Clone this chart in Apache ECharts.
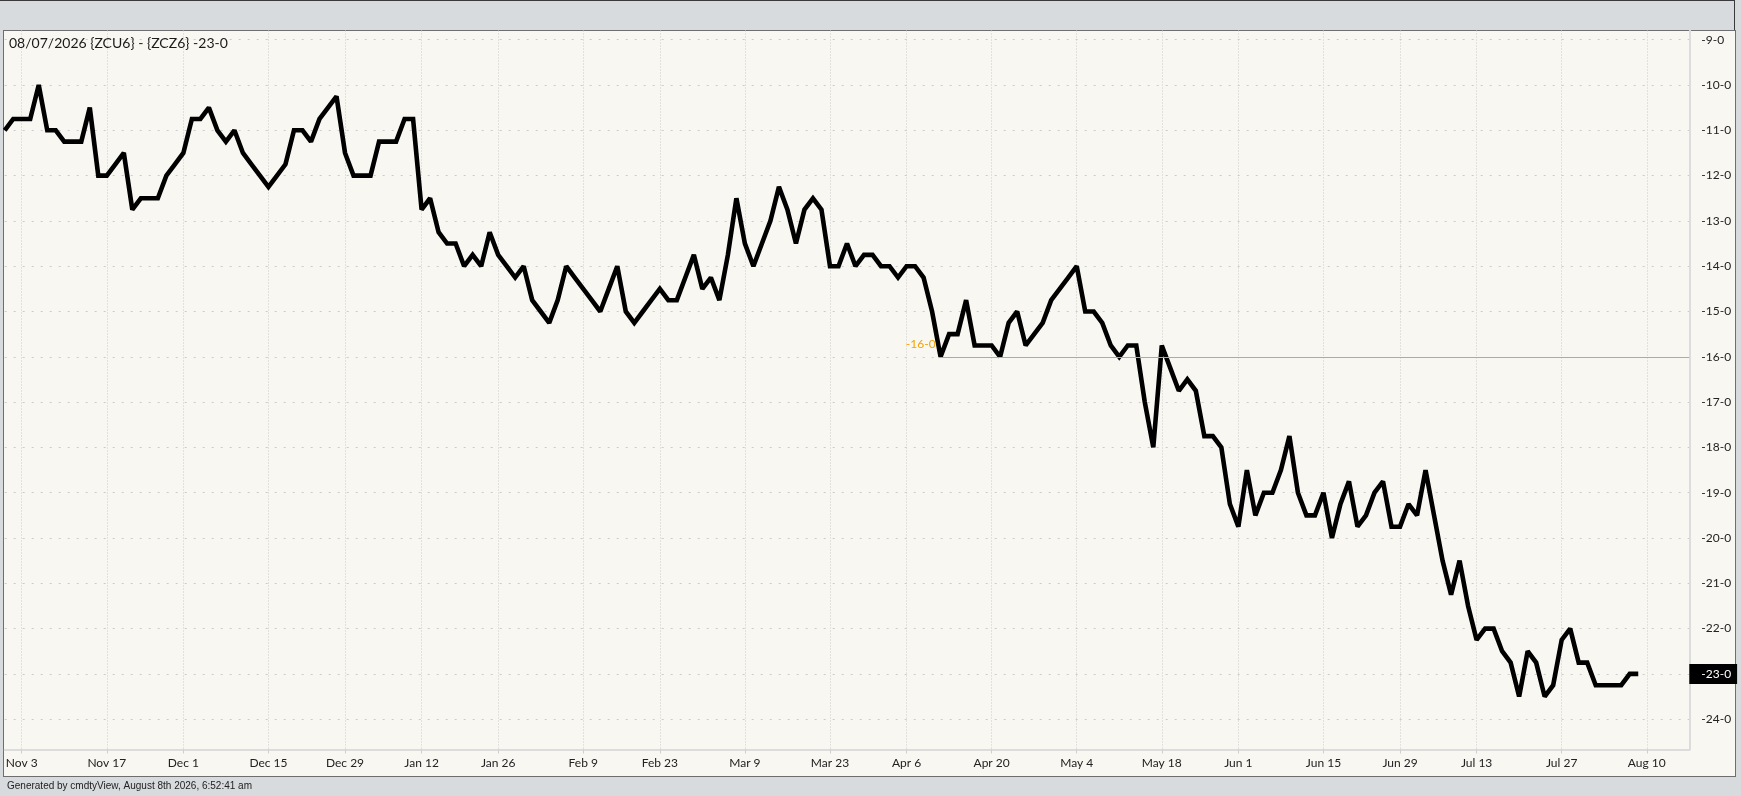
<!DOCTYPE html>
<html>
<head>
<meta charset="utf-8">
<script src="https://cdn.jsdelivr.net/npm/echarts@6/dist/echarts.min.js"></script>
<style>
html,body{margin:0;padding:0;width:1741px;height:796px;overflow:hidden;background:#d8dbde;}
#frame{position:absolute;left:0;top:0;width:1735px;height:777px;border-top:1px solid #3a3a3a;border-right:1px solid #3a3a3a;box-sizing:border-box;}
#panel{position:absolute;left:3px;top:30px;width:1733px;height:747px;background:#f9f7f1;border:1px solid #6e6e6e;box-sizing:border-box;}
#chart{position:absolute;left:0;top:0;width:1741px;height:796px;}
</style>
</head>
<body>
<div id="frame"></div>
<div id="panel"></div>
<div id="chart"></div>
<script>
// ---- data (ZCU6 - ZCZ6 spread, daily closes, cents) ----
const startDate = '2025-10-30';
const holidays = ['2025-11-27','2025-12-25','2026-01-01','2026-01-19','2026-02-16','2026-04-03','2026-05-25','2026-06-19','2026-07-03'];
const tickLabels = ['Nov 3','Nov 17','Dec 1','Dec 15','Dec 29','Jan 12','Jan 26','Feb 9','Feb 23','Mar 9','Mar 23','Apr 6','Apr 20','May 4','May 18','Jun 1','Jun 15','Jun 29','Jul 13','Jul 27','Aug 10'];
const octValues = [-11.0, -10.75];
const novValues = [-10.75, -10.75, -10.0, -11.0, -11.0, -11.25, -11.25, -11.25, -10.5, -12.0, -12.0, -11.75, -11.5, -12.75, -12.5, -12.5, -12.5, -12.0, -11.75];
const decValues = [-11.5, -10.75, -10.75, -10.5, -11.0, -11.25, -11.0, -11.5, -11.75, -12.0, -12.25, -12.0, -11.75, -11.0, -11.0, -11.25, -10.75, -10.5, -10.25, -11.5, -12.0, -12.0];
const janValues = [-12.0, -11.25, -11.25, -11.25, -10.75, -10.75, -12.75, -12.5, -13.25, -13.5, -13.5, -14.0, -13.75, -14.0, -13.25, -13.75, -14.0, -14.25, -14.0, -14.75];
const febValues = [-15.0, -15.25, -14.75, -14.0, -14.25, -14.5, -14.75, -15.0, -14.5, -14.0, -15.0, -15.25, -15.0, -14.75, -14.5, -14.75, -14.75, -14.25, -13.75];
const marValues = [-14.5, -14.25, -14.75, -13.75, -12.5, -13.5, -14.0, -13.5, -13.0, -12.25, -12.75, -13.5, -12.75, -12.5, -12.75, -14.0, -14.0, -13.5, -14.0, -13.75, -13.75, -14.0];
const aprValues = [-14.0, -14.25, -14.0, -14.0, -14.25, -15.0, -16.0, -15.5, -15.5, -14.75, -15.75, -15.75, -15.75, -16.0, -15.25, -15.0, -15.75, -15.5, -15.25, -14.75, -14.5];
const mayValues = [-14.25, -14.0, -15.0, -15.0, -15.25, -15.75, -16.0, -15.75, -15.75, -17.0, -18.0, -15.75, -16.25, -16.75, -16.5, -16.75, -17.75, -17.75, -18.0, -19.25];
const junValues = [-19.75, -18.5, -19.5, -19.0, -19.0, -18.5, -17.75, -19.0, -19.5, -19.5, -19.0, -20.0, -19.25, -18.75, -19.75, -19.5, -19.0, -18.75, -19.75, -19.75, -19.25];
const julValues = [-19.5, -18.5, -19.5, -20.5, -21.25, -20.5, -21.5, -22.25, -22.0, -22.0, -22.5, -22.75, -23.5, -22.5, -22.75, -23.5, -23.25, -22.25, -22.0, -22.75, -22.75, -23.25];
const augValues = [-23.25, -23.25, -23.25, -23.0, -23.0];
const levelValue = -16;
const levelStartDate = '2026-04-10';
const axisEndPadDays = 6; // trading days shown after last close

// ---- build ----
const values = [].concat(octValues, novValues, decValues, janValues, febValues, marValues, aprValues, mayValues, junValues, julValues, augValues);
const MONTHS = ['Jan','Feb','Mar','Apr','May','Jun','Jul','Aug','Sep','Oct','Nov','Dec'];
const dates = [];
(function(){
  let d = new Date(startDate + 'T00:00:00Z');
  const total = values.length + axisEndPadDays;
  while (dates.length < total) {
    const s = d.toISOString().slice(0,10);
    const wd = d.getUTCDay();
    if (wd !== 0 && wd !== 6 && holidays.indexOf(s) < 0) dates.push(s);
    d = new Date(d.getTime() + 86400000);
  }
})();
function shortLabel(s){ const p = s.split('-'); return MONTHS[+p[1]-1] + ' ' + (+p[2]); }
function isTick(idx, val){ return tickLabels.indexOf(shortLabel(val)) >= 0; }
function fmt(v){
  const ip = v < 0 ? Math.ceil(v) : Math.floor(v);
  const fr = Math.round(Math.abs(v - ip) * 8);
  const sign = (v < 0 && ip === 0) ? '-' : '';
  return sign + ip + '-' + fr;
}
const lastVal = values[values.length - 1];

const W = 1741, H = 796;
const plotLeft = 4.7, plotRight = 1689.3, plotTop = 30.5, plotBottom = 749.5;
const pxPerUnit = 45.3, yOfMinus9 = 39.7;
const yMax = -9 + (yOfMinus9 - plotTop) / pxPerUnit;
const yMin = -24 - (plotBottom - (yOfMinus9 + 15 * pxPerUnit)) / pxPerUnit;

const chart = echarts.init(document.getElementById('chart'), null, {renderer:'canvas'});
chart.setOption({
  animation: false,
  backgroundColor: 'transparent',
  textStyle: {fontFamily: 'Lato'},
  title: [
    {text: '08/07/2026 {ZCU6} - {ZCZ6} ' + fmt(lastVal), left: 9, top: 36, padding: 0,
     textStyle: {fontFamily: 'Lato', fontSize: 14, fontWeight: 'normal', color: '#1a1a1a'}},
    {text: 'Generated by cmdtyView, August 8th 2026, 6:52:41 am', left: 7, top: 781, padding: 0,
     textStyle: {fontFamily: 'Liberation Sans', fontSize: 10, fontWeight: 'normal', color: '#222'}}
  ],
  grid: [
    {left: plotLeft, right: W - plotRight, top: plotTop, bottom: H - plotBottom, containLabel: false},
    {left: plotLeft, right: W - plotRight, top: yOfMinus9, bottom: H - (yOfMinus9 + 15 * pxPerUnit), containLabel: false}
  ],
  xAxis: [
    {type: 'category', gridIndex: 0, data: dates, boundaryGap: false,
     axisLine: {show: true, lineStyle: {color: '#dcdcdc', width: 2}},
     axisTick: {show: true, interval: isTick, length: 4, lineStyle: {color: '#cfcfcf'}},
     axisLabel: {interval: isTick, formatter: shortLabel, fontFamily: 'Lato', fontSize: 12, color: '#222', margin: 8},
     splitLine: {show: true, interval: isTick, lineStyle: {color: '#cbcbcb', type: [1, 2]}}},
    {type: 'category', gridIndex: 1, data: dates, boundaryGap: false, show: false}
  ],
  yAxis: [
    {type: 'value', gridIndex: 0, position: 'right', min: yMin, max: yMax, scale: true,
     axisLine: {show: true, lineStyle: {color: '#dcdcdc', width: 2}},
     axisTick: {show: false}, axisLabel: {show: false}, splitLine: {show: false}},
    {type: 'value', gridIndex: 1, position: 'right', min: -24, max: -9, interval: 1,
     axisLine: {show: false}, axisTick: {show: false},
     axisLabel: {formatter: fmt, margin: 12, fontFamily: 'Lato', fontSize: 12, color: '#222'},
     splitLine: {show: true, lineStyle: {color: '#cbcbcb', type: [2, 7]}}}
  ],
  series: [{
    type: 'line', xAxisIndex: 0, yAxisIndex: 0, data: values,
    showSymbol: false, symbol: 'none',
    lineStyle: {color: '#000', width: 4.6, join: 'miter', miterLimit: 2},
    z: 3,
    markLine: {
      silent: true, symbol: ['none', 'none'], animation: false,
      data: [
        [{coord: [levelStartDate, levelValue],
          lineStyle: {color: '#f5a400', width: 1, type: 'solid'},
          label: {show: true, position: 'start', formatter: fmt(levelValue), color: '#f5a400',
                  fontFamily: 'Lato', fontSize: 12, distance: 5, verticalAlign: 'bottom', padding: [0, 0, 7, 0]}},
         {coord: [dates[dates.length - 1], levelValue]}],
        {yAxis: lastVal, lineStyle: {color: 'rgba(0,0,0,0)', width: 1, type: 'solid'},
         label: {show: true, position: 'end', distance: 0, formatter: fmt(lastVal),
                 backgroundColor: '#000', color: '#fff', fontFamily: 'Lato', fontSize: 12,
                 lineHeight: 14, padding: [3, 6, 3, 12]}}
      ]
    }
  }]
});
</script>
</body>
</html>
